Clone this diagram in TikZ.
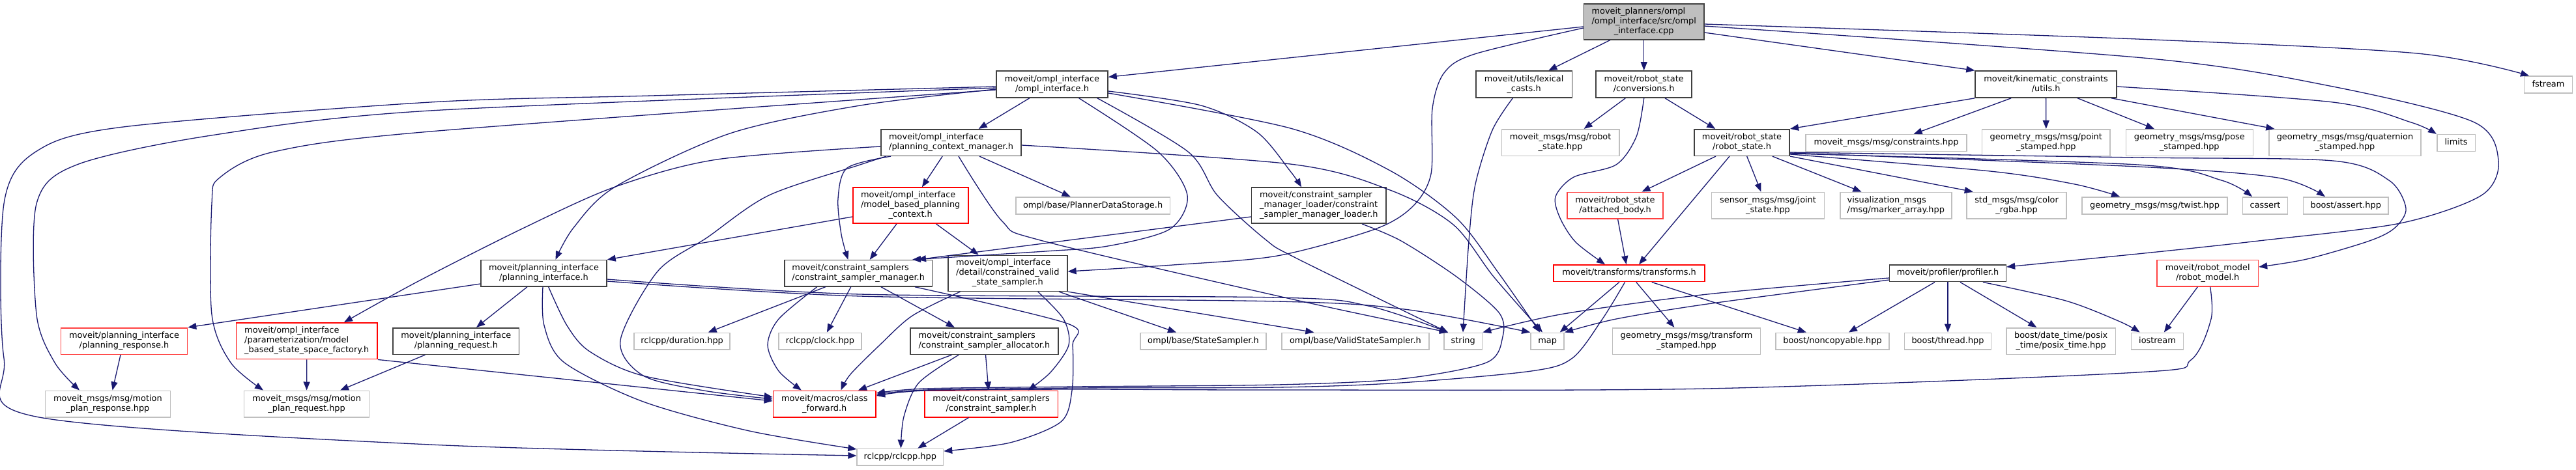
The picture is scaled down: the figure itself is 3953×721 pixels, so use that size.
\documentclass[tikz,border=0pt]{standalone}
\usepackage{fontspec}
\setmainfont{DejaVu Sans}
\usetikzlibrary{arrows.meta}
\definecolor{edgec}{HTML}{191970}
\definecolor{dkc}{HTML}{404040}
\definecolor{grc}{HTML}{BFBFBF}
\definecolor{redtwo}{HTML}{FF4040}
\newcommand\Tb[1]{\begin{tabular}{@{}l@{}}#1\end{tabular}}
\newcommand\Lc[1]{\multicolumn{1}{@{}c@{}}{#1}}
\begin{document}
\begin{tikzpicture}[x=1pt,y=-1pt,
  box/.style={draw, line width=1.6pt, inner sep=0pt, fill=white, font=\fontsize{12.9}{15}\selectfont},
  sz/.style 2 args={minimum width=#1pt, minimum height=#2pt},
  dk/.style={box, draw=dkc},
  gr/.style={box, draw=grc},
  rd/.style={box, draw=red},
  rdb/.style={box, draw=redtwo},
  rootbox/.style={box, draw=dkc, fill=grc},
  e/.style={draw=edgec, line width=1.3pt, -{Triangle[length=13pt,width=10pt]}}]
\fill[white] (0,0) rectangle (3953,721);
\useasboundingbox (0,0) rectangle (3953,721);
% nodes
\node[rootbox, sz={184.4}{55}] (root) at (2522.7,33.2) {\Tb{moveit\_planners/ompl\\/ompl\_interface/src/ompl\\\Lc{\_interface.cpp}}};
\node[dk, sz={171}{41}] (oi) at (1614.5,129.5) {\Tb{moveit/ompl\_interface\\\Lc{/ompl\_interface.h}}};
\node[dk, sz={147.4}{41}] (lc) at (2338.6,129.5) {\Tb{moveit/utils/lexical\\\Lc{\_casts.h}}};
\node[dk, sz={147}{41}] (conv) at (2522.7,129.5) {\Tb{moveit/robot\_state\\\Lc{/conversions.h}}};
\node[dk, sz={217}{41}] (kc) at (3139.6,129.5) {\Tb{moveit/kinematic\_constraints\\\Lc{/utils.h}}};
\node[gr, sz={73.8}{25.7}] (fstream) at (3910.5,130) {\Tb{fstream}};
\node[dk, sz={215.2}{40.6}] (pcm) at (1459.6,219) {\Tb{moveit/ompl\_interface\\\Lc{/planning\_context\_manager.h}}};
\node[gr, sz={180.4}{40.6}] (msgrs) at (2394.6,219) {\Tb{moveit\_msgs/msg/robot\\\Lc{\_state.hpp}}};
\node[dk, sz={146.5}{40.6}] (rs) at (2673,219) {\Tb{moveit/robot\_state\\\Lc{/robot\_state.h}}};
\node[gr, sz={247.2}{25.7}] (cons) at (2894.5,219.5) {\Tb{moveit\_msgs/msg/constraints.hpp}};
\node[gr, sz={196.4}{40.6}] (ptst) at (3139.8,219) {\Tb{geometry\_msgs/msg/point\\\Lc{\_stamped.hpp}}};
\node[gr, sz={195}{40.6}] (posest) at (3359.8,219) {\Tb{geometry\_msgs/msg/pose\\\Lc{\_stamped.hpp}}};
\node[gr, sz={233.5}{40.6}] (quat) at (3598.5,219) {\Tb{geometry\_msgs/msg/quaternion\\\Lc{\_stamped.hpp}}};
\node[gr, sz={58.8}{25.7}] (limits) at (3769.1,219.5) {\Tb{limits}};
\node[rd, sz={177}{55}] (mbpc) at (1397.2,315.7) {\Tb{moveit/ompl\_interface\\/model\_based\_planning\\\Lc{\_context.h}}};
\node[gr, sz={236.4}{26.3}] (pds) at (1677.1,316) {\Tb{ompl/base/PlannerDataStorage.h}};
\node[dk, sz={206.4}{55}] (csml) at (2023.8,315.7) {\Tb{moveit/constraint\_sampler\\\_manager\_loader/constraint\\\Lc{\_sampler\_manager\_loader.h}}};
\node[rdb, sz={147}{40.7}] (ab) at (2478.5,315.7) {\Tb{moveit/robot\_state\\\Lc{/attached\_body.h}}};
\node[gr, sz={173}{40.7}] (joint) at (2713,315.7) {\Tb{sensor\_msgs/msg/joint\\\Lc{\_state.hpp}}};
\node[gr, sz={171}{40.7}] (marker) at (2909.3,315.7) {\Tb{visualization\_msgs\\\Lc{/msg/marker\_array.hpp}}};
\node[gr, sz={152.7}{40.7}] (color) at (3094.5,315.7) {\Tb{std\_msgs/msg/color\\\Lc{\_rgba.hpp}}};
\node[gr, sz={222.7}{26.3}] (twist) at (3306.5,316) {\Tb{geometry\_msgs/msg/twist.hpp}};
\node[gr, sz={69}{26.3}] (cassert) at (3476,316) {\Tb{cassert}};
\node[gr, sz={130.5}{26.3}] (bassert) at (3599.8,316) {\Tb{boost/assert.hpp}};
\node[rdb, sz={155.4}{40.3}] (rmodel) at (3387.7,419.8) {\Tb{moveit/robot\_model\\\Lc{/robot\_model.h}}};
\node[dk, sz={193}{40.3}] (pi) at (834.5,419.8) {\Tb{moveit/planning\_interface\\\Lc{/planning\_interface.h}}};
\node[dk, sz={226.7}{40.3}] (csm) at (1317.2,419.8) {\Tb{moveit/constraint\_samplers\\\Lc{/constraint\_sampler\_manager.h}}};
\node[dk, sz={183}{55}] (cvss) at (1546.3,419.8) {\Tb{moveit/ompl\_interface\\/detail/constrained\_valid\\\Lc{\_state\_sampler.h}}};
\node[rd, sz={231.5}{25.7}] (tf) at (2500,419.8) {\Tb{moveit/transforms/transforms.h}};
\node[dk, sz={178.7}{25.7}] (prof) at (2989,419.8) {\Tb{moveit/profiler/profiler.h}};
\node[rdb, sz={194}{40.6}] (presp) at (190.5,524) {\Tb{moveit/planning\_interface\\\Lc{/planning\_response.h}}};
\node[rd, sz={216.8}{55.7}] (fact) at (470.8,523.8) {\Tb{moveit/ompl\_interface\\/parameterization/model\\\Lc{\_based\_state\_space\_factory.h}}};
\node[dk, sz={193.4}{40.6}] (preq) at (699.9,524) {\Tb{moveit/planning\_interface\\\Lc{/planning\_request.h}}};
\node[gr, sz={147}{25.4}] (dur) at (1046.6,524) {\Tb{rclcpp/duration.hpp}};
\node[gr, sz={126.6}{25.4}] (clock) at (1258.4,524) {\Tb{rclcpp/clock.hpp}};
\node[dk, sz={227.3}{40.6}] (csa) at (1510.4,524) {\Tb{moveit/constraint\_samplers\\\Lc{/constraint\_sampler\_allocator.h}}};
\node[gr, sz={193.5}{25.4}] (ss) at (1846.5,524) {\Tb{ompl/base/StateSampler.h}};
\node[gr, sz={226}{25.4}] (vss) at (2079.9,524) {\Tb{ompl/base/ValidStateSampler.h}};
\node[gr, sz={58.5}{25.4}] (strg) at (2245.2,524) {\Tb{string}};
\node[gr, sz={51.2}{25.4}] (mapn) at (2374.6,524) {\Tb{map}};
\node[gr, sz={227.1}{40.6}] (tstamp) at (2588,524) {\Tb{geometry\_msgs/msg/transform\\\Lc{\_stamped.hpp}}};
\node[gr, sz={173.9}{25.4}] (noncopy) at (2812,524) {\Tb{boost/noncopyable.hpp}};
\node[gr, sz={132.7}{25.4}] (thread) at (2989,524) {\Tb{boost/thread.hpp}};
\node[gr, sz={167.4}{40.6}] (dtime) at (3162.6,524) {\Tb{boost/date\_time/posix\\\Lc{\_time/posix\_time.hpp}}};
\node[gr, sz={79.9}{25.4}] (iostream) at (3310.5,524) {\Tb{iostream}};
\node[gr, sz={191.9}{40.4}] (mpresp) at (165.4,620.5) {\Tb{moveit\_msgs/msg/motion\\\Lc{\_plan\_response.hpp}}};
\node[gr, sz={191.9}{40.4}] (mpreq) at (470.6,620.5) {\Tb{moveit\_msgs/msg/motion\\\Lc{\_plan\_request.hpp}}};
\node[rd, sz={157.8}{40.4}] (cfwd) at (1265.3,620.5) {\Tb{moveit/macros/class\\\Lc{\_forward.h}}};
\node[rd, sz={204.7}{40.4}] (cs) at (1521.1,620.5) {\Tb{moveit/constraint\_samplers\\\Lc{/constraint\_sampler.h}}};
\node[gr, sz={132.3}{25.7}] (rclcpp) at (1381.3,702.2) {\Tb{rclcpp/rclcpp.hpp}};
% root edges
\draw[e] (root.west |- 0,41) -- (oi.east |- 0,118.3);
\draw[e] (2471,0 |- root.south) -- (2376.4,0 |- lc.north);
\draw[e] (root.south) -- (conv.north);
\draw[e] (root.east |- 0,50) -- (kc.north west);
\draw[e] plot[smooth] coordinates {(root.east |- 0,37) (3280,60) (3709,82) (3881,0 |- fstream.north)};
\draw[e] plot[smooth] coordinates {(root.east |- 0,40) (3300,90) (3580,133) (3795,187) (3834,247) (3808,300) (3683,343) (3466,370) (3300,388) (prof.east |- 0,410)};
\draw[e] plot[smooth] coordinates {(root.west |- 0,43) (2263,83) (2216,112) (2198,167) (2196,267) (2168,317) (2110,352) (1960,393) (1800,407) (cvss.east |- 0,417)};
% oi edges
\draw[e] (1579.7,0 |- oi.south) -- (1501.7,0 |- pcm.north);
\draw[e] plot[smooth] coordinates {(oi.west |- 0,137) (1320,162) (1120,205) (944,287) (880,350) (852.5,0 |- pi.north)};
\draw[e] plot[smooth] coordinates {(1655.6,0 |- oi.south) (1777,233) (1822,300) (1795,352) (1700,378) (1604,386) (1400,0 |- csm.north)};
\draw[e] plot[smooth] coordinates {(oi.east |- 0,140) (1843,162) (1929,203) (1980,263) (1997,0 |- csml.north)};
\draw[e] plot[smooth] coordinates {(oi.east |- 0,143) (1980,197) (2133,262) (2235,335) (2300,420) (2363,0 |- mapn.north)};
\draw[e] plot[smooth] coordinates {(1683.8,0 |- oi.south) (1823,233) (1868,300) (1942,368) (1990,397) (2222,0 |- strg.north)};
\draw[e] plot[smooth] coordinates {(oi.west |- 0,133) (1000,147) (660,157) (189,195) (55,233) (6,313) (6,550) (55,640) (660,683) (rclcpp.west |- 0,700)};
\draw[e] plot[smooth] coordinates {(oi.west |- 0,135) (660,170) (324,208) (118,253) (56,313) (56,483) (84,557) (122,0 |- mpresp.north)};
\draw[e] plot[smooth] coordinates {(oi.west |- 0,138) (660,202) (421,233) (337,273) (325,313) (325,483) (354,557) (404,0 |- mpreq.north)};
% pcm edges
\draw[e] (1446.2,0 |- pcm.south) -- (1414.9,0 |- mbpc.north);
\draw[e] (1503,0 |- pcm.south) -- (1642.6,0 |- pds.north);
\draw[e] plot[smooth] coordinates {(1367,0 |- pcm.south) (1300,258) (1286,305) (1291,360) (1301.4,0 |- csm.north)};
\draw[e] plot[smooth] coordinates {(1360,0 |- pcm.south) (1320,253) (1180,300) (1085,365) (1009,417) (952,523) (987,577) (1080,600) (cfwd.west |- 0,613)};
\draw[e] plot[smooth] coordinates {(pcm.west |- 0,225) (1100,245) (944,287) (804,350) (640,433) (528,0 |- fact.north)};
\draw[e] plot[smooth] coordinates {(pcm.east |- 0,223) (1980,252) (2133,292) (2230,345) (2292,425) (2367,0 |- mapn.north)};
\draw[e] plot[smooth] coordinates {(1471,0 |- pcm.south) (1538,340) (1600,370) (1980,459) (2222,0 |- strg.north)};
% pi edges
\draw[e] (pi.west |- 0,436) -- (presp.north east);
\draw[e] (809,0 |- pi.south) -- (731,0 |- preq.north);
\draw[e] plot[smooth] coordinates {(841.7,0 |- pi.south) (870,500) (905,540) (990,578) (cfwd.west |- 0,610)};
\draw[e] plot[smooth] coordinates {(833,0 |- pi.south) (835,500) (866,557) (987,617) (1150,662) (rclcpp.west |- 0,690)};
\draw[e] plot[smooth] coordinates {(pi.east |- 0,429) (1320,452) (1960,457) (2100,470) (2222,0 |- strg.north)};
\draw[e] plot[smooth] coordinates {(pi.east |- 0,432) (1320,455) (1960,463) (2155,475) (mapn.north west)};
% csm edges
\draw[e] (1266.7,0 |- csm.south) -- (1086.7,0 |- dur.north);
\draw[e] (1305.7,0 |- csm.south) -- (1268.9,0 |- clock.north);
\draw[e] plot[smooth] coordinates {(1253.7,0 |- csm.south) (1195,490) (1178,530) (1195,570) (1229.8,0 |- cfwd.north)};
\draw[e] (1352,0 |- csm.south) -- (1464.8,0 |- csa.north);
\draw[e] plot[smooth] coordinates {(1404,0 |- csm.south) (1638,497) (1646,530) (1645,600) (1628,648) (1550,680) (rclcpp.east |- 0,693)};
% cvss edges
\draw[e] plot[smooth] coordinates {(1473.5,0 |- cvss.south) (1400,485) (1350,530) (1305,575) (1290.5,0 |- cfwd.north)};
\draw[e] plot[smooth] coordinates {(1592.7,0 |- cvss.south) (1632,490) (1640,530) (1612,572) (1577.6,0 |- cs.north)};
\draw[e] (1625,0 |- cvss.south) -- (1805,0 |- ss.north);
\draw[e] (cvss.south east) -- (2016.4,0 |- vss.north);
% csa, cs edges
\draw[e] (1460.5,0 |- csa.south) -- (1317,0 |- cfwd.north);
\draw[e] (1512.5,0 |- csa.south) -- (1516.9,0 |- cs.north);
\draw[e] plot[smooth] coordinates {(1471.3,0 |- csa.south) (1410,588) (1387,640) (1382.4,0 |- rclcpp.north)};
\draw[e] (1486.5,0 |- cs.south) -- (1408.4,0 |- rclcpp.north);
% mbpc edges
\draw[e] (mbpc.west |- 0,333) -- (pi.north east);
\draw[e] (1375.9,0 |- mbpc.south) -- (1334.7,0 |- csm.north);
\draw[e] (1436.6,0 |- mbpc.south) -- (1501.7,0 |- cvss.north);
% csml edges
\draw[e] (csml.west |- 0,333) -- (1408,0 |- csm.north);
\draw[e] plot[smooth] coordinates {(2090,0 |- csml.south) (2150,370) (2235,425) (2300,480) (2306,517) (2281,557) (2150,582) (1960,591) (1650,594) (1420,597) (cfwd.east |- 0,604)};
% tf edges
\draw[e] (2484.8,0 |- tf.south) -- (2393.7,0 |- mapn.north);
\draw[e] (2510.8,0 |- tf.south) -- (2569.3,0 |- tstamp.north);
\draw[e] (2534.7,0 |- tf.south) -- (2771.8,0 |- noncopy.north);
\draw[e] plot[smooth] coordinates {(2493.5,0 |- tf.south) (2459,490) (2413,550) (2350,570) (2150,588) (1960,595) (1650,596) (1420,599) (cfwd.east |- 0,606)};
% ab, conv, lc, rs edges
\draw[e] (2482.6,0 |- ab.south) -- (2495.6,0 |- tf.north);
\draw[e] (2494.3,0 |- conv.south) -- (2430.6,0 |- msgrs.north);
\draw[e] (2555,0 |- conv.south) -- (2632.2,0 |- rs.north);
\draw[e] plot[smooth] coordinates {(conv.south) (2511,210) (2480,253) (2415,272) (2387,302) (2394,335) (2418,372) (2463,0 |- tf.north)};
\draw[e] plot[smooth] coordinates {(2321.3,0 |- lc.south) (2290,200) (2264,283) (2254,370) (2245,0 |- strg.north)};
\draw[e] (2633,0 |- rs.south) -- (2519.5,0 |- ab.north);
\draw[e] (2654,0 |- rs.south) -- (2515,0 |- tf.north);
\draw[e] (2680.7,0 |- rs.south) -- (2702.4,0 |- joint.north);
\draw[e] (2719.8,0 |- rs.south) -- (2856.4,0 |- marker.north);
\draw[e] (rs.south east) -- (3027.7,0 |- color.north);
\draw[e] plot[smooth] coordinates {(rs.east |- 0,237) (3054,263) (3184,283) (3253,0 |- twist.north)};
\draw[e] plot[smooth] coordinates {(rs.east |- 0,236) (3280,253) (3409,277) (3456,0 |- cassert.north)};
\draw[e] plot[smooth] coordinates {(rs.east |- 0,235) (3280,256) (3495,273) (3568,0 |- bassert.north)};
\draw[e] plot[smooth] coordinates {(rs.east |- 0,234) (3280,242) (3580,247) (3666,277) (3692,320) (3675,350) (3636,370) (3540,398) (rmodel.east |- 0,410)};
% kc edges
\draw[e] (kc.south west) -- (rs.north east);
\draw[e] (3086.2,0 |- kc.south) -- (2936.6,0 |- cons.north);
\draw[e] (kc.south) -- (ptst.north);
\draw[e] (3188,0 |- kc.south) -- (3305.8,0 |- posest.north);
\draw[e] (3240,0 |- kc.south) -- (3490.3,0 |- quat.north);
\draw[e] plot[smooth] coordinates {(kc.east |- 0,133) (3580,157) (3700,188) (limits.north west)};
% prof edges
\draw[e] plot[smooth] coordinates {(prof.west |- 0,427) (2620,452) (2400,482) (strg.north east)};
\draw[e] plot[smooth] coordinates {(prof.west |- 0,430) (2620,467) (2480,490) (mapn.north east)};
\draw[e] (2969,0 |- prof.south) -- (2836.9,0 |- noncopy.north);
\draw[e] (prof.south) -- (thread.north);
\draw[e] (3008,0 |- prof.south) -- (3125.3,0 |- dtime.north);
\draw[e] plot[smooth] coordinates {(3042.9,0 |- prof.south) (3170,462) (3253,494) (3283.6,0 |- iostream.north)};
% rmodel edges
\draw[e] (3372.3,0 |- rmodel.south) -- (3320.8,0 |- iostream.north);
\draw[e] plot[smooth] coordinates {(3391.6,0 |- rmodel.south) (3393,490) (3362,553) (3280,572) (2620,597) (1960,599) (1650,598) (1420,600) (cfwd.east |- 0,608)};
% fact, presp, preq edges
\draw[e] (fact.south) -- (mpreq.north);
\draw[e] (fact.south east) -- (cfwd.west |- 0,616);
\draw[e] (185,0 |- presp.south) -- (172.6,0 |- mpresp.north);
\draw[e] (652.4,0 |- preq.south) -- (522,0 |- mpreq.north);
\end{tikzpicture}
\end{document}
